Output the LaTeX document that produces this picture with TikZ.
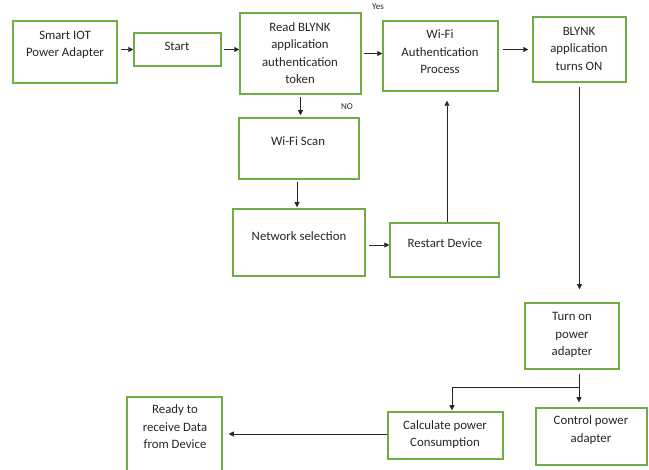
\documentclass[tikz,border=0pt]{standalone}
\usepackage{fontspec}
\setmainfont{Carlito}
\usetikzlibrary{arrows.meta}
\definecolor{boxgreen}{HTML}{70AD47}
\definecolor{txtgray}{HTML}{262626}
\begin{document}
\begin{tikzpicture}[x=1pt,y=-1pt,
 box/.style={draw=boxgreen, line width=1.5pt, inner sep=0pt},
 txt/.style={align=center, font=\fontsize{12.8}{17.5}\selectfont, text=txtgray, inner sep=0pt},
 lbl/.style={font=\fontsize{9}{10}\selectfont, text=txtgray, inner sep=0pt},
 arr/.style={-{Triangle[length=5pt,width=5pt]}, line width=0.6pt, draw=black!85}]
\useasboundingbox (0,0) rectangle (649,470);
% boxes
\node[box, minimum width=104pt, minimum height=62pt] (smart) at (65,52) {};
\node[box, minimum width=87pt, minimum height=33pt] (start) at (177.5,49.5) {};
\node[box, minimum width=121pt, minimum height=81pt] (read) at (300.5,53.5) {};
\node[box, minimum width=115pt, minimum height=70pt] (auth) at (440.5,56) {};
\node[box, minimum width=93pt, minimum height=65pt] (blynk) at (579.5,49.5) {};
\node[box, minimum width=120pt, minimum height=61pt] (scan) at (299,148.5) {};
\node[box, minimum width=132pt, minimum height=67pt] (net) at (299,242.5) {};
\node[box, minimum width=109pt, minimum height=54pt] (restart) at (444.5,250) {};
\node[box, minimum width=94pt, minimum height=66pt] (turnon) at (572,336) {};
\node[box, minimum width=115pt, minimum height=47pt] (calc) at (445.5,435.5) {};
\node[box, minimum width=111pt, minimum height=57pt] (control) at (591.5,436.5) {};
\node[box, minimum width=95pt, minimum height=80pt] (ready) at (174.5,437) {};
% texts
\node[txt] (tsmart) at (65,45) {Smart IOT\\Power Adapter};
\node[txt] (tstart) at (177,46.5) {Start};
\node[txt] (tread) at (300,53) {Read BLYNK\\application\\authentication\\token};
\node[txt] (tauth) at (440,52) {Wi-Fi\\Authentication\\Process};
\node[txt] (tblynk) at (579,48.5) {BLYNK\\application\\turns ON};
\node[txt] (tscan) at (298,141) {Wi-Fi Scan};
\node[txt] (tnet) at (299,236) {Network selection};
\node[txt] (trestart) at (445,243) {Restart Device};
\node[txt] (tturnon) at (572,335) {Turn on\\power\\adapter};
\node[txt] (tcalc) at (445,434.5) {Calculate power\\Consumption};
\node[txt] (tcontrol) at (591,430) {Control power\\adapter};
\node[txt] (tready) at (175,427) {Ready to\\receive Data\\from Device};
\node[lbl] (yes) at (378,7) {Yes};
\node[lbl] (no) at (347,107) {NO};
% connectors
\draw[arr, shorten <=3pt] (smart.east |- start.west) -- (start.west);
\draw[arr, shorten <=2pt] (start.east) -- (start.east -| read.west);
\draw[arr, shorten <=2pt] (read.east) -- (read.east -| auth.west);
\draw[arr, shorten <=4pt, shorten >=4pt] (auth.east |- blynk.west) -- (blynk.west);
\draw[arr, shorten <=2pt, shorten >=2pt] (read.south) -- (read.south |- scan.north);
\draw[arr, shorten <=2pt, shorten >=1pt] ([xshift=-2pt]scan.south) -- ([xshift=-2pt]scan.south |- net.north);
\coordinate (nr) at (367,245);
\draw[arr, shorten <=3pt] (nr -| net.east) -- (nr -| restart.west);
\draw[arr, shorten >=9pt] ([xshift=2.5pt]restart.north) -- ([xshift=2.5pt]restart.north |- auth.south);
\draw[arr, shorten <=4pt, shorten >=13pt] (blynk.south) -- (blynk.south |- turnon.north);
\coordinate (split) at (579,387);
\draw[arr, shorten <=4pt, shorten >=5pt] (split |- turnon.south) -- (split |- control.north);
\draw[arr, shorten >=1pt] (split) -| ([xshift=6.5pt]calc.north);
\draw[arr, shorten >=6pt] ([yshift=1.5pt]calc.west) -- ([yshift=1.5pt]calc.west -| ready.east);
\end{tikzpicture}
\end{document}
